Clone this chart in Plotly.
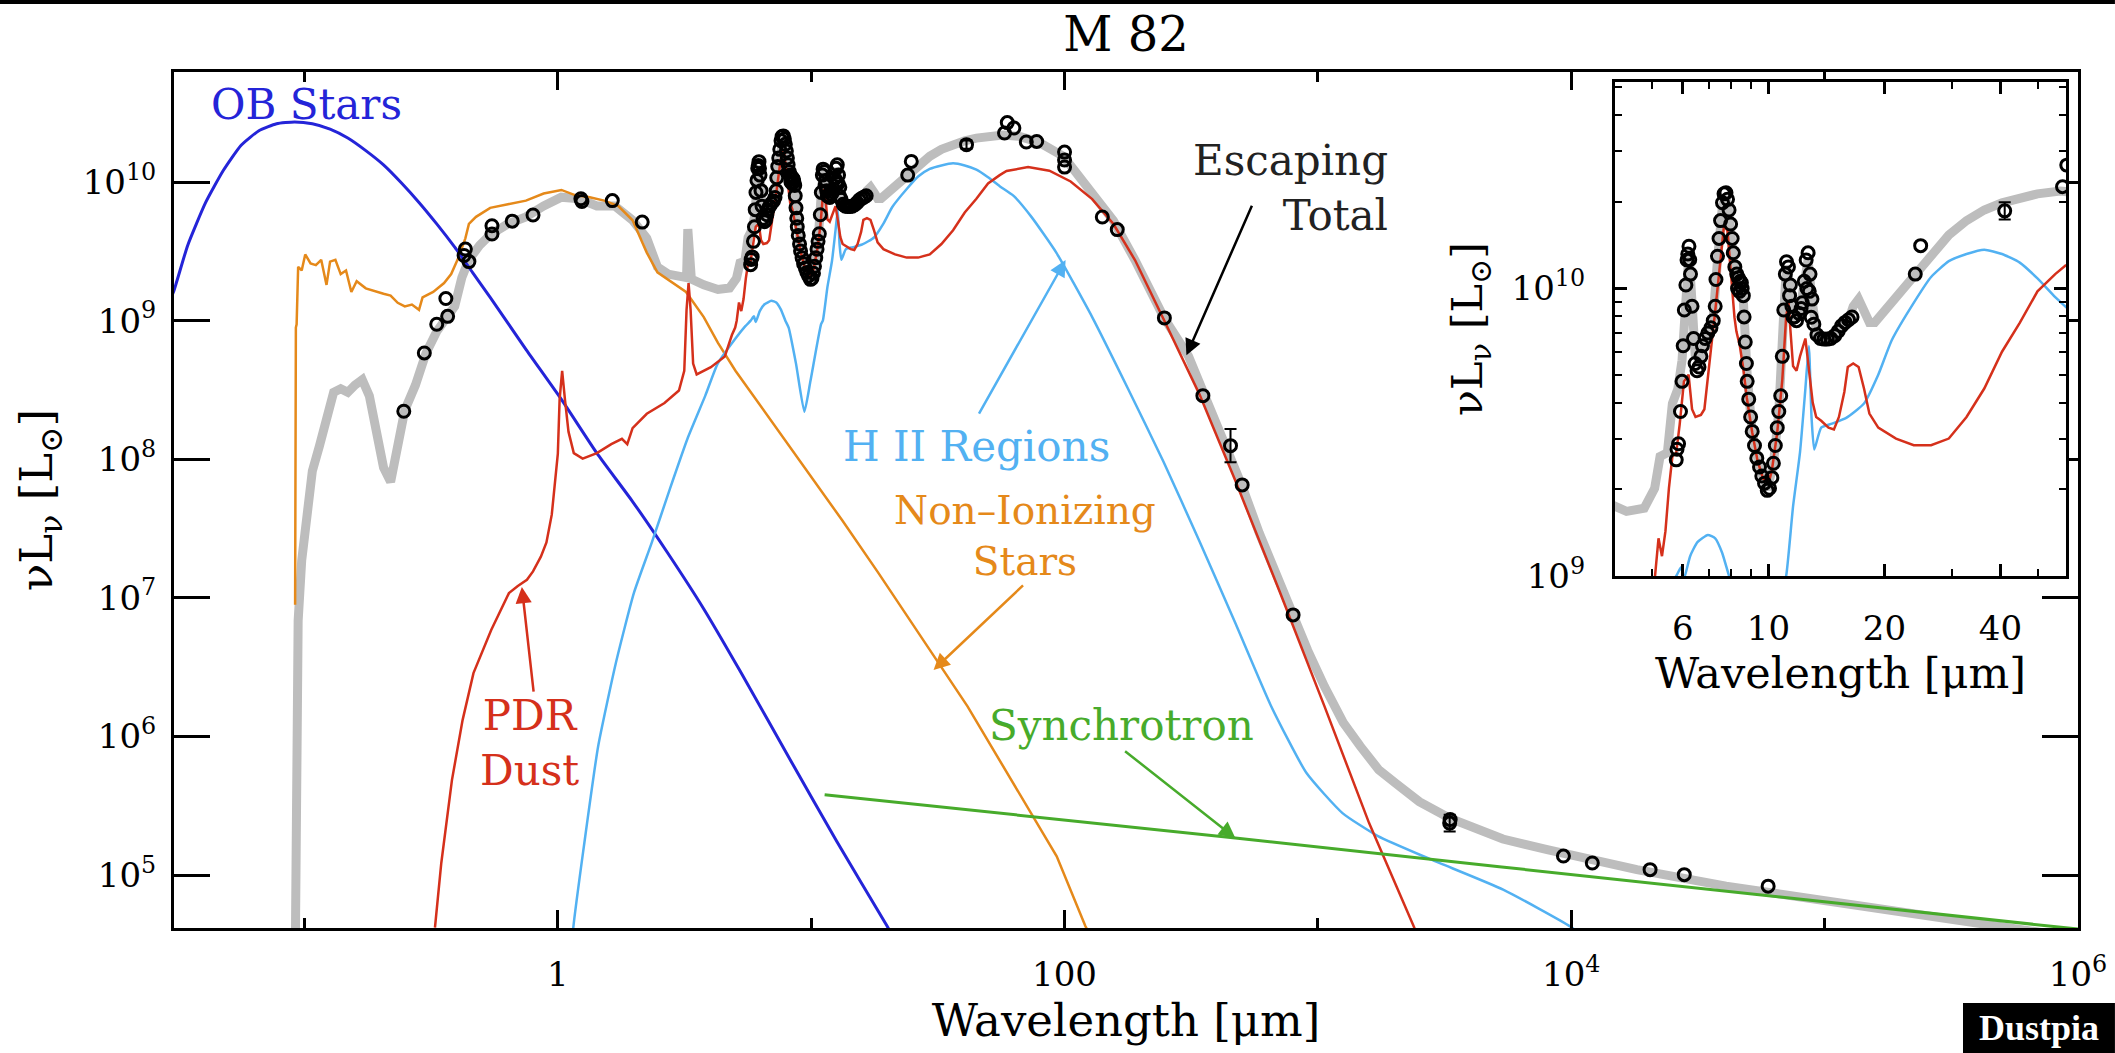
import plotly.graph_objects as go

# ---------------------------------------------------------------
# Values, stored as log10(wavelength / um) and
# log10(nu L_nu / L_sun); converted to linear values for log axes.
# ---------------------------------------------------------------

# OB stars (blue)
ob_logwl = [-1.53, -1.517, -1.461, -1.390, -1.320, -1.250, -1.180, -1.110, -1.039, -0.969,
            -0.899, -0.829, -0.758, -0.688, -0.618, -0.548, -0.478, -0.407, -0.337, -0.267,
            -0.126, 0.014, 0.154, 0.295, 0.435, 0.576, 0.720, 0.930, 1.100, 1.300, 1.350]
ob_loglum = [9.16, 9.207, 9.543, 9.853, 10.085, 10.266, 10.370, 10.421, 10.434, 10.421,
             10.382, 10.318, 10.227, 10.124, 9.995, 9.853, 9.698, 9.530, 9.349, 9.168,
             8.793, 8.432, 8.044, 7.695, 7.320, 6.920, 6.470, 5.790, 5.245, 4.630, 4.470]

# Non-ionizing stars (orange)
ns_logwl = [-1.037, -1.036, -1.034, -1.031, -1.028, -1.025, -1.011, -0.997, -0.976, -0.955,
            -0.934, -0.913, -0.899, -0.878, -0.857, -0.836, -0.815, -0.794, -0.758, -0.716,
            -0.688, -0.660, -0.632, -0.604, -0.576, -0.548, -0.534, -0.492, -0.449, -0.421,
            -0.393, -0.365, -0.351, -0.323, -0.267, -0.197, -0.126, -0.056, 0.014, 0.070,
            0.126, 0.183, 0.239, 0.295, 0.351, 0.393, 0.506, 0.576, 0.632, 0.701,
            0.842, 0.982, 1.123, 1.265, 1.617, 1.969, 2.082, 2.120]
ns_loglum = [6.95, 8.00, 8.95, 8.974, 9.30, 9.388, 9.362, 9.478, 9.413, 9.401,
             9.439, 9.258, 9.426, 9.439, 9.336, 9.362, 9.207, 9.284, 9.233, 9.207,
             9.194, 9.181, 9.129, 9.103, 9.116, 9.078, 9.168, 9.207, 9.271, 9.336,
             9.452, 9.594, 9.698, 9.749, 9.814, 9.840, 9.866, 9.917, 9.943, 9.904,
             9.891, 9.866, 9.827, 9.724, 9.491, 9.349, 9.207, 9.026, 8.840, 8.639,
             8.278, 7.918, 7.558, 7.180, 6.217, 5.135, 4.632, 4.500]

# PDR dust (red)
pdr_logwl = [-0.485, -0.460, -0.418, -0.376, -0.333, -0.263, -0.193, -0.158, -0.122, -0.098,
             -0.067, -0.045, -0.024, -0.010, 0.000, 0.007, 0.017, 0.028, 0.042, 0.063,
             0.098, 0.154, 0.211, 0.253, 0.274, 0.295, 0.351, 0.421, 0.478, 0.499,
             0.508, 0.516, 0.524, 0.534, 0.548, 0.604, 0.659, 0.687, 0.700, 0.706,
             0.715, 0.724, 0.733, 0.742, 0.751, 0.761, 0.770, 0.781, 0.793, 0.802,
             0.811, 0.825, 0.834, 0.843, 0.852, 0.862, 0.875, 0.885, 0.894, 0.903,
             0.912, 0.917, 0.926, 0.935, 0.944, 0.958, 0.972, 0.986, 1.000, 1.009,
             1.023, 1.036, 1.046, 1.052, 1.058, 1.064, 1.073, 1.082, 1.096, 1.105,
             1.115, 1.124, 1.137, 1.156, 1.170, 1.183, 1.197, 1.206, 1.220, 1.234,
             1.248, 1.262, 1.285, 1.331, 1.377, 1.422, 1.468, 1.514, 1.560, 1.606,
             1.652, 1.698, 1.744, 1.771, 1.856, 1.940, 2.024, 2.109, 2.193, 2.278,
             2.391, 2.532, 2.673, 2.768, 2.850, 3.026, 3.202, 3.378, 3.420]
pdr_loglum = [4.62, 5.087, 5.685, 6.118, 6.457, 6.768, 7.034, 7.085, 7.130, 7.191,
              7.297, 7.400, 7.600, 7.850, 8.040, 8.432, 8.638, 8.432, 8.199, 8.044,
              8.005, 8.044, 8.109, 8.147, 8.109, 8.225, 8.328, 8.406, 8.496, 8.638,
              9.078, 9.271, 9.078, 8.690, 8.612, 8.664, 8.742, 8.896, 8.950, 9.000,
              9.131, 9.069, 9.156, 9.305, 9.416, 9.429, 9.528, 9.677, 9.700, 9.580,
              9.553, 9.560, 9.580, 9.680, 9.800, 9.920, 10.100, 10.220, 10.200, 10.050,
              9.900, 9.851, 9.800, 9.720, 9.620, 9.500, 9.400, 9.340, 9.320, 9.367,
              9.500, 9.680, 9.900, 9.950, 9.850, 9.730, 9.714, 9.764, 9.826, 9.727,
              9.603, 9.553, 9.540, 9.516, 9.510, 9.553, 9.640, 9.727, 9.739, 9.727,
              9.652, 9.565, 9.516, 9.478, 9.455, 9.455, 9.478, 9.553, 9.652, 9.780,
              9.880, 9.990, 10.050, 10.080, 10.108, 10.082, 10.004, 9.877, 9.697, 9.437,
              9.010, 8.470, 7.850, 7.420, 7.040, 6.217, 5.375, 4.630, 4.450]

# H II regions (light blue)
hii_logwl = [0.055, 0.061, 0.103, 0.159, 0.229, 0.300, 0.371, 0.442, 0.512, 0.582,
             0.631, 0.701, 0.740, 0.761, 0.774, 0.781, 0.797, 0.816, 0.843, 0.862,
             0.880, 0.898, 0.911, 0.940, 0.973, 0.997, 1.039, 1.046, 1.064, 1.082,
             1.096, 1.105, 1.112, 1.119, 1.137, 1.165, 1.202, 1.248, 1.285, 1.320,
             1.377, 1.422, 1.468, 1.514, 1.560, 1.606, 1.652, 1.698, 1.744, 1.799,
             1.870, 1.968, 2.109, 2.250, 2.391, 2.532, 2.674, 2.815, 2.955, 3.097,
             3.237, 3.448, 3.731, 3.995, 4.050]
hii_loglum = [4.45, 4.62, 5.21, 5.928, 6.53, 7.034, 7.40, 7.785, 8.15, 8.459,
              8.690, 8.871, 8.960, 9.000, 9.031, 8.990, 9.069, 9.118, 9.143, 9.131,
              9.081, 9.000, 8.950, 8.690, 8.343, 8.564, 8.975, 9.000, 9.242, 9.430,
              9.652, 9.800, 9.550, 9.440, 9.516, 9.530, 9.550, 9.600, 9.700, 9.820,
              9.950, 10.040, 10.095, 10.120, 10.135, 10.120, 10.090, 10.035, 9.970, 9.900,
              9.747, 9.489, 9.026, 8.511, 7.980, 7.410, 6.818, 6.220, 5.736, 5.447,
              5.281, 5.111, 4.895, 4.630, 4.550]

# Synchrotron (green)
syn_logwl = [1.053, 2.674, 3.716, 5.490, 6.000]
syn_loglum = [5.580, 5.267, 5.060, 4.710, 4.610]

# Escaping total (grey)
tot_logwl = [-1.036, -1.030, -1.025, -1.011, -0.990, -0.969, -0.941, -0.913, -0.885, -0.857,
             -0.829, -0.801, -0.772, -0.744, -0.716, -0.688, -0.660, -0.632, -0.604, -0.562,
             -0.520, -0.478, -0.435, -0.407, -0.379, -0.351, -0.309, -0.267, -0.197, -0.126,
             -0.056, 0.014, 0.084, 0.154, 0.225, 0.295, 0.351, 0.393, 0.435, 0.492,
             0.508, 0.513, 0.518, 0.527, 0.576, 0.632, 0.678, 0.705, 0.719, 0.738,
             0.751, 0.765, 0.776, 0.786, 0.794, 0.802, 0.810, 0.820, 0.836, 0.857,
             0.868, 0.881, 0.890, 0.898, 0.909, 0.922, 0.935, 0.945, 0.958, 0.977,
             0.997, 1.013, 1.027, 1.040, 1.047, 1.057, 1.067, 1.080, 1.093, 1.103,
             1.113, 1.126, 1.153, 1.181, 1.208, 1.220, 1.234, 1.248, 1.262, 1.276,
             1.303, 1.340, 1.377, 1.422, 1.468, 1.514, 1.560, 1.606, 1.652, 1.698,
             1.757, 1.820, 1.897, 1.996, 2.109, 2.193, 2.278, 2.391, 2.489, 2.560,
             2.643, 2.700, 2.768, 2.820, 2.902, 2.960, 3.026, 3.100, 3.167, 3.240,
             3.308, 3.400, 3.520, 3.730, 3.905, 4.259, 4.611, 4.963, 5.316, 5.669,
             5.950]
tot_loglum = [4.50, 6.00, 6.835, 7.269, 7.656, 7.915, 8.096, 8.302, 8.483, 8.509,
              8.483, 8.535, 8.574, 8.457, 8.173, 7.941, 7.837, 8.070, 8.354, 8.535,
              8.767, 8.922, 9.026, 9.103, 9.310, 9.439, 9.543, 9.620, 9.698, 9.749,
              9.827, 9.891, 9.879, 9.827, 9.827, 9.724, 9.594, 9.388, 9.336, 9.310,
              9.310, 9.660, 9.310, 9.300, 9.258, 9.225, 9.236, 9.305, 9.416, 9.429,
              9.600, 9.650, 9.750, 10.000, 10.120, 9.950, 9.770, 9.750, 9.820, 9.900,
              10.100, 10.290, 10.320, 10.260, 10.100, 10.030, 9.960, 9.700, 9.500, 9.380,
              9.300, 9.390, 9.570, 9.920, 10.080, 10.000, 9.900, 9.910, 10.020, 10.100,
              9.960, 9.840, 9.820, 9.850, 9.890, 9.938, 9.963, 9.925, 9.882, 9.882,
              9.925, 9.990, 10.050, 10.124, 10.186, 10.236, 10.273, 10.298, 10.317, 10.329,
              10.339, 10.330, 10.289, 10.185, 9.928, 9.721, 9.437, 9.026, 8.745, 8.434,
              8.100, 7.810, 7.470, 7.230, 6.877, 6.620, 6.360, 6.100, 5.930, 5.760,
              5.660, 5.530, 5.410, 5.260, 5.183, 5.039, 4.920, 4.823, 4.726, 4.641,
              4.560]

# Observations: optical / near-IR photometry
phot_logwl = [-0.608, -0.527, -0.478, -0.442, -0.435, -0.370, -0.365, -0.351, -0.260, -0.260,
              -0.180, -0.098, 0.091, 0.095, 0.215, 0.333]
phot_loglum = [8.346, 8.767, 8.974, 9.160, 9.031, 9.470, 9.517, 9.426, 9.685, 9.625,
               9.718, 9.762, 9.879, 9.860, 9.866, 9.711]

# Observations: mid-IR spectrum
irs_logwl = [0.761, 0.763, 0.767, 0.772, 0.776, 0.779, 0.782, 0.786, 0.789, 0.794,
             0.798, 0.802, 0.806, 0.810, 0.815, 0.820, 0.825, 0.829, 0.836, 0.843,
             0.851, 0.857, 0.862, 0.864, 0.868, 0.872, 0.876, 0.881, 0.885, 0.890,
             0.894, 0.898, 0.902, 0.906, 0.909, 0.913, 0.918, 0.922, 0.927, 0.932,
             0.935, 0.937, 0.940, 0.943, 0.945, 0.949, 0.954, 0.958, 0.964, 0.970,
             0.977, 0.983, 0.990, 0.997, 1.003, 1.009, 1.013, 1.018, 1.023, 1.027,
             1.032, 1.036, 1.040, 1.044, 1.047, 1.052, 1.057, 1.061, 1.067, 1.073,
             1.080, 1.088, 1.093, 1.098, 1.103, 1.108, 1.113, 1.118, 1.126, 1.135,
             1.144, 1.153, 1.162, 1.172, 1.181, 1.190, 1.199, 1.208, 1.217,
             0.791, 0.796, 0.920, 0.925, 0.930, 1.055, 1.064, 1.085, 1.100, 1.106, 1.111]
irs_loglum = [9.404, 9.441, 9.460, 9.572, 9.677, 9.801, 9.925, 10.012, 10.099, 10.147,
              10.050, 9.938, 9.826, 9.739, 9.714, 9.727, 9.764, 9.801, 9.826, 9.845,
              9.863, 9.888, 9.938, 10.031, 10.112, 10.174, 10.236, 10.298, 10.329, 10.333,
              10.310, 10.273, 10.224, 10.174, 10.124, 10.075, 10.050, 10.037, 10.025, 10.000,
              9.975, 9.901, 9.814, 9.739, 9.677, 9.615, 9.553, 9.503, 9.454, 9.410,
              9.379, 9.348, 9.323, 9.298, 9.305, 9.342, 9.392, 9.454, 9.516, 9.572,
              9.627, 9.764, 9.925, 10.050, 10.093, 10.075, 10.012, 9.938, 9.901, 9.888,
              9.913, 9.950, 10.025, 10.099, 10.124, 10.050, 9.963, 9.876, 9.839, 9.826,
              9.824, 9.824, 9.826, 9.836, 9.851, 9.870, 9.882, 9.891, 9.901,
              10.120, 10.100, 10.000, 9.990, 10.020, 9.975, 9.900, 9.930, 10.000, 9.990, 9.900]

# Observations: far-IR to radio photometry
fir_logwl = [1.381, 1.395, 1.613, 1.763, 1.774, 1.800, 1.849, 1.890, 2.000, 2.000,
             2.000, 2.149, 2.208, 2.394, 2.546, 2.655, 2.701, 2.902, 3.520, 3.522,
             3.969, 4.083, 4.311, 4.446, 4.777]
fir_loglum = [10.050, 10.149, 10.270, 10.354, 10.429, 10.390, 10.289, 10.293, 10.216, 10.159,
              10.108, 9.748, 9.657, 9.020, 8.459, 8.098, 7.815, 6.877, 5.375, 5.400,
              5.137, 5.087, 5.039, 5.003, 4.920]

# Points with visible error bars (log values and half-length in dex)
err_logwl = [1.613, 2.655, 3.520]
err_loglum = [10.270, 8.098, 5.375]
err_dex = [0.03, 0.12, 0.06]

# Axis tick values
main_xticks = [1, 100, 1e4, 1e6]
main_xticktext = ["1", "100", "10<sup>4</sup>", "10<sup>6</sup>"]
main_xminor = [0.1, 10, 1e3, 1e5]
main_yticks = [1e5, 1e6, 1e7, 1e8, 1e9, 1e10]
main_yticktext = ["10<sup>5</sup>", "10<sup>6</sup>", "10<sup>7</sup>", "10<sup>8</sup>",
                  "10<sup>9</sup>", "10<sup>10</sup>"]
ins_xticks = [6, 10, 20, 40]
ins_xticktext = ["6", "10", "20", "40"]
ins_xminor = [5, 7, 8, 9, 30, 50]
ins_yticks = [1e9, 1e10]
ins_yticktext = ["10<sup>9</sup>", "10<sup>10</sup>"]
ins_yminor = [2e9, 3e9, 4e9, 5e9, 6e9, 7e9, 8e9, 9e9, 2e10, 3e10, 4e10, 5e10]


def lin(vals):
    return [10.0 ** v for v in vals]


FONT = "DejaVu Serif"
GRAY = "#bdbdbd"
BLUE = "#2424d8"
ORANGE = "#e5891a"
RED = "#d5301b"
LBLUE = "#52b1f2"
GREEN = "#47ab2b"

fig = go.Figure()


def add_line(xl, yl, color, width, xa="x", ya="y", spline=False):
    ln = dict(color=color, width=width)
    if spline:
        ln["shape"] = "spline"
        ln["smoothing"] = 0.5
    fig.add_trace(go.Scatter(x=lin(xl), y=lin(yl), mode="lines", line=ln,
                             xaxis=xa, yaxis=ya, showlegend=False, hoverinfo="skip"))


obs_x = phot_logwl + irs_logwl + fir_logwl
obs_y = phot_loglum + irs_loglum + fir_loglum

err_plus = [10 ** (v + d) - 10 ** v for v, d in zip(err_loglum, err_dex)]
err_minus = [10 ** v - 10 ** (v - d) for v, d in zip(err_loglum, err_dex)]


def add_obs(xa, ya):
    fig.add_trace(go.Scatter(
        x=lin(err_logwl), y=lin(err_loglum), mode="markers",
        marker=dict(size=1, color="black"),
        error_y=dict(type="data", symmetric=False, array=err_plus, arrayminus=err_minus,
                     color="black", thickness=2, width=6),
        xaxis=xa, yaxis=ya, showlegend=False, hoverinfo="skip"))
    fig.add_trace(go.Scatter(
        x=lin(obs_x), y=lin(obs_y), mode="markers",
        marker=dict(symbol="circle-open", size=12, color="black", line=dict(width=3, color="black")),
        xaxis=xa, yaxis=ya, showlegend=False, hoverinfo="skip"))


# main panel
add_line(tot_logwl, tot_loglum, GRAY, 9)
add_line(ns_logwl, ns_loglum, ORANGE, 2.5)
add_line(ob_logwl, ob_loglum, BLUE, 3, spline=True)
add_line(hii_logwl, hii_loglum, LBLUE, 2.5, spline=True)
add_line(pdr_logwl, pdr_loglum, RED, 2.5)
add_line(syn_logwl, syn_loglum, GREEN, 3)
add_obs("x", "y")

# inset panel
add_line(tot_logwl, tot_loglum, GRAY, 9, "x2", "y2")
add_line(hii_logwl, hii_loglum, LBLUE, 2.5, "x2", "y2", spline=True)
add_line(pdr_logwl, pdr_loglum, RED, 2.5, "x2", "y2")
add_obs("x2", "y2")

tickfont = dict(family=FONT, size=34, color="black")
titlefont = dict(family=FONT, size=45, color="black")
insettitlefont = dict(family=FONT, size=43, color="black")
common = dict(showline=True, linecolor="black", linewidth=3, mirror="allticks",
              ticks="inside", tickcolor="black", tickwidth=3, showgrid=False,
              zeroline=False, tickfont=tickfont, automargin=False)

ylabel = "\u03bdL<sub>\u03bd</sub> [L<sub>\u2299</sub>]"

fig.update_layout(
    width=2115, height=1053,
    margin=dict(l=174, r=37, t=72, b=125, pad=0),
    paper_bgcolor="white", plot_bgcolor="white",
    title=dict(text="M 82", x=0.5, xref="paper", y=1 - 34 / 1053, yref="container",
               xanchor="center", yanchor="middle", font=dict(family=FONT, size=48, color="black")),
    xaxis=dict(common, type="log", range=[-1.515, 6.0], domain=[0, 1], anchor="y",
               tickmode="array", tickvals=main_xticks, ticktext=main_xticktext, ticklen=18,
               ticklabelstandoff=14,
               minor=dict(tickmode="array", tickvals=main_xminor, ticklen=10, tickwidth=3,
                          tickcolor="black", ticks="inside"),
               title=dict(text="Wavelength [\u03bcm]", font=titlefont, standoff=4)),
    yaxis=dict(common, type="log", range=[4.618, 10.794], domain=[0, 1], anchor="x",
               tickmode="array", tickvals=main_yticks, ticktext=main_yticktext, ticklen=36,
               ticklabelstandoff=8,
               title=dict(text=ylabel, font=titlefont, standoff=16)),
    xaxis2=dict(common, type="log", range=[0.602, 1.772], domain=[0.7568, 0.9937], anchor="y2",
                tickmode="array", tickvals=ins_xticks, ticktext=ins_xticktext, ticklen=12,
                ticklabelstandoff=20,
                minor=dict(tickmode="array", tickvals=ins_xminor, ticklen=7, tickwidth=2,
                           tickcolor="black", ticks="inside"),
                title=dict(text="Wavelength [\u03bcm]", font=insettitlefont, standoff=4)),
    yaxis2=dict(common, type="log", range=[9.0, 10.718], domain=[0.4112, 0.9883], anchor="x2",
                tickmode="array", tickvals=ins_yticks, ticktext=ins_yticktext, ticklen=12,
                ticklabelstandoff=20,
                minor=dict(tickmode="array", tickvals=ins_yminor, ticklen=7, tickwidth=2,
                           tickcolor="black", ticks="inside"),
                title=dict(text=ylabel, font=insettitlefont, standoff=16)),
)

lab = dict(family=FONT, size=42)
annotations = [
    dict(x=-1.377, y=10.563, text="OB Stars", xanchor="left", yanchor="middle",
         font=dict(lab, color=BLUE)),
    dict(x=-0.110, y=5.952, text="PDR<br>Dust", xanchor="center", yanchor="middle",
         font=dict(lab, color=RED)),
    dict(x=1.653, y=8.095, text="H II Regions", xanchor="center", yanchor="middle",
         font=dict(lab, color=LBLUE)),
    dict(x=1.842, y=7.446, text="Non\u2013Ionizing<br>Stars", xanchor="center", yanchor="middle",
         font=dict(family=FONT, size=39, color=ORANGE)),
    dict(x=2.225, y=6.082, text="Synchrotron", xanchor="center", yanchor="middle",
         font=dict(lab, color=GREEN)),
    dict(x=3.286, y=9.957, text="Escaping<br>Total", xanchor="right", yanchor="middle",
         align="right", font=dict(lab, color="#222222")),
]
for a in annotations:
    a.update(xref="x", yref="y", showarrow=False)

arrows = [
    (-0.142, 7.078, -0.095, 6.313, RED),
    (2.004, 9.437, 1.659, 8.319, LBLUE),
    (1.483, 6.480, 1.842, 7.100, ORANGE),
    (2.674, 5.267, 2.233, 5.902, GREEN),
    (2.481, 8.750, 2.742, 9.840, "black"),
]
for tx, ty, sx, sy, col in arrows:
    annotations.append(dict(x=tx, y=ty, ax=sx, ay=sy, xref="x", yref="y", axref="x", ayref="y",
                            text="", showarrow=True, arrowhead=2, arrowsize=1.3,
                            arrowwidth=2.5, arrowcolor=col, standoff=0, startstandoff=0))

# watermark
annotations.append(dict(x=0.9795, y=-0.1168, xref="paper", yref="paper", text="<b>Dustpia</b>",
                        showarrow=False, xanchor="center", yanchor="middle",
                        font=dict(family="Liberation Serif", size=36, color="white")))
fig.update_layout(annotations=annotations)

fig.update_layout(shapes=[
    dict(type="rect", xref="paper", yref="paper", x0=0.9396, x1=1.0194, y0=-0.1460, y1=-0.0876,
         fillcolor="black", line=dict(width=0), layer="below"),
    dict(type="rect", xref="paper", yref="paper", x0=-0.0914, x1=1.0194, y0=1.0794, y1=1.0841,
         fillcolor="black", line=dict(width=0), layer="above"),
])

fig.write_html("out.html")
